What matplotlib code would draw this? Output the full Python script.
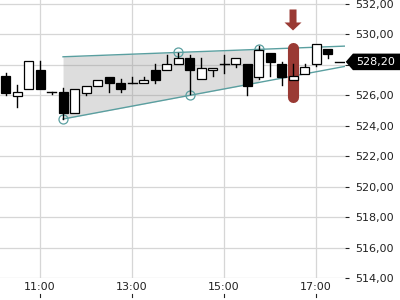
import matplotlib
matplotlib.use("Agg")
import matplotlib.pyplot as plt
import matplotlib.transforms as mtransforms
from matplotlib.patches import Polygon, Rectangle
import numpy as np

# ---- data ----
times = ["10:15", "10:30", "10:45", "11:00", "11:15", "11:30", "11:45", "12:00",
         "12:15", "12:30", "12:45", "13:00", "13:15", "13:30", "13:45", "14:00",
         "14:15", "14:30", "14:45", "15:00", "15:15", "15:30", "15:45", "16:00",
         "16:15", "16:30", "16:45", "17:00", "17:15", "17:30"]
opens = [527.27, 525.96, 526.44, 527.64, 526.22, 526.22, 524.83, 526.18,
         526.64, 527.23, 526.84, 526.84, 526.84, 527.64, 527.64, 528.04,
         528.43, 527.05, 527.64, 528.04, 528.04, 528.04, 527.20, 528.80,
         528.04, 527.01, 527.43, 528.04, 529.02, 528.20]
highs = [527.49, 526.66, 528.23, 528.23, 526.22, 526.46, 526.44, 526.64,
         527.03, 527.23, 527.05, 527.23, 527.23, 528.04, 528.64, 528.80,
         528.64, 528.43, 527.82, 528.64, 528.43, 528.04, 529.26, 528.80,
         528.21, 528.04, 528.04, 529.39, 529.02, 528.20]
lows = [526.03, 525.24, 526.44, 526.44, 526.07, 524.47, 524.83, 526.05,
        526.64, 526.25, 526.22, 526.84, 526.84, 526.84, 527.64, 528.04,
        526.07, 527.05, 527.27, 527.49, 527.86, 526.03, 527.05, 527.27,
        526.68, 527.01, 527.43, 527.96, 528.47, 528.20]
closes = [526.18, 526.22, 528.23, 526.44, 526.22, 524.83, 526.44, 526.64,
          527.03, 526.84, 526.44, 526.84, 527.03, 527.03, 528.04, 528.43,
          527.64, 527.82, 527.82, 528.04, 528.43, 526.61, 528.97, 528.21,
          527.20, 527.27, 527.86, 529.39, 528.69, 528.20]

upper_anchor_t = [14.0, 15.75]
upper_anchor_v = [528.82, 529.02]
lower_anchor_t = [11.5, 14.25]
lower_anchor_v = [524.45, 526.00]
channel_start_t = 11.5
channel_end_t = 15.75

signal_time = "16:30"
signal_low, signal_high = 525.91, 529.12
last_price = 528.20

xtick_times = ["11:00", "13:00", "15:00", "17:00"]
ytick_values = [514, 516, 518, 520, 522, 524, 526, 528, 530, 532]
ytick_labels = ["514,00", "516,00", "518,00", "520,00", "522,00", "524,00",
                "526,00", "", "530,00", "532,00"]


def to_h(s):
    h, m = s.split(":")
    return int(h) + int(m) / 60.0


def fmt(v):
    return f"{v:.2f}".replace(".", ",")


t = np.array([to_h(s) for s in times])

fig = plt.figure(figsize=(4, 3), dpi=100)
ax = fig.add_axes([0.0, 1 - 278.3 / 300, 345 / 400, 278.3 / 300])
ax.set_xlim(10.13, 17.63)
ax.set_ylim(514, 532.26)
for sp in ax.spines.values():
    sp.set_visible(False)

grid_c = "#d6d6d6"
ax.set_yticks(ytick_values)
ax.set_yticklabels(ytick_labels)
ax.yaxis.tick_right()
ax.tick_params(axis="y", length=3.2, width=0.8, pad=4.3, colors="#222222",
               labelsize=8)
ax.set_xticks([to_h(s) for s in xtick_times])
ax.set_xticklabels(xtick_times)
ax.tick_params(axis="x", length=0, pad=3.0, colors="#222222", labelsize=8)
ax.grid(True, color=grid_c, linewidth=0.9, zorder=0)
ax.set_axisbelow(True)

# small x tick marks at the bottom
btrans = mtransforms.blended_transform_factory(ax.transData, ax.transAxes)
for s in xtick_times:
    ax.plot([to_h(s), to_h(s)], [-0.056, -0.068], color="#222222", lw=0.8,
            transform=btrans, clip_on=False)

# channel lines
xl = np.array(ax.get_xlim())
teal = "#5a9fa0"
up_slope = (upper_anchor_v[1] - upper_anchor_v[0]) / (upper_anchor_t[1] - upper_anchor_t[0])
lo_slope = (lower_anchor_v[1] - lower_anchor_v[0]) / (lower_anchor_t[1] - lower_anchor_t[0])


def up_line(x):
    return upper_anchor_v[0] + up_slope * (np.asarray(x) - upper_anchor_t[0])


def lo_line(x):
    return lower_anchor_v[0] + lo_slope * (np.asarray(x) - lower_anchor_t[0])


fx = np.array([channel_start_t, channel_end_t])
ax.fill_between(fx, lo_line(fx), up_line(fx), color="#888888", alpha=0.28,
                linewidth=0, zorder=1)
lx = np.array([channel_start_t, xl[1]])
ax.plot(lx, up_line(lx), color=teal, lw=1.0, zorder=2)
ax.plot(lx, lo_line(lx), color=teal, lw=1.0, zorder=2)
ax.plot(upper_anchor_t + lower_anchor_t, upper_anchor_v + lower_anchor_v,
        linestyle="none", marker="o", ms=6.5, mfc="none", mec=teal, mew=0.9,
        zorder=2.2)

# signal marker
st = to_h(signal_time)
red = "#9a3a34"
ax.plot([st, st], [signal_low, signal_high], color=red, lw=8.0,
        solid_capstyle="round", zorder=2.5)
# arrow above
arrow_tip_v = 530.26
tr = fig.dpi_scale_trans + mtransforms.ScaledTranslation(st, arrow_tip_v, ax.transData)
arr = np.array([[0, 0], [-8.5, 8], [-3.5, 8], [-3.5, 21], [3.5, 21], [3.5, 8],
                [8.5, 8]]) / 100.0
ax.add_patch(Polygon(arr, closed=True, facecolor=red, edgecolor="none",
                     transform=tr, clip_on=False, zorder=3))

# candles
w = 0.195
for ti, o, h, l, c in zip(t, opens, highs, lows, closes):
    top = max(o, c)
    bot = min(o, c)
    if h > top:
        ax.plot([ti, ti], [top, h], color="black", lw=1.0, zorder=4)
    if l < bot:
        ax.plot([ti, ti], [l, bot], color="black", lw=1.0, zorder=4)
    if abs(c - o) < 1e-6:
        ax.plot([ti - w / 2, ti + w / 2], [o, o], color="black", lw=1.0, zorder=5)
    else:
        fc = "white" if c > o else "black"
        ax.add_patch(Rectangle((ti - w / 2, bot), w, top - bot, facecolor=fc,
                               edgecolor="black", lw=0.9, zorder=5))

# last price tag
ptrans = mtransforms.blended_transform_factory(ax.transAxes, ax.transData)
hh = 8.3 / 15.27
tag = np.array([[1.002, last_price], [1.023, last_price + hh], [1.2, last_price + hh],
                [1.2, last_price - hh], [1.023, last_price - hh]])
ax.add_patch(Polygon(tag, closed=True, facecolor="black", edgecolor="none",
                     transform=ptrans, clip_on=False, zorder=10))
ax.text(356 / 345, last_price, fmt(last_price), transform=ptrans, color="white",
        fontsize=8, va="center", ha="left", zorder=11, clip_on=False)

fig.savefig("out.png", dpi=100)
